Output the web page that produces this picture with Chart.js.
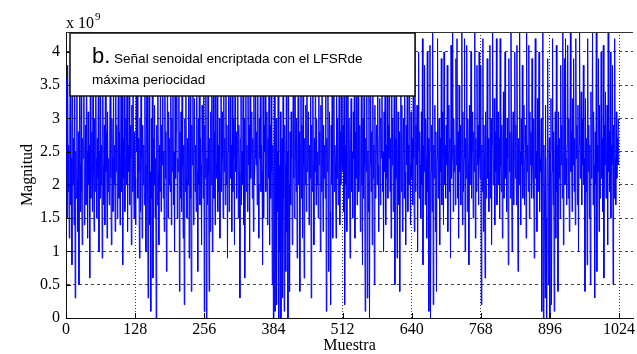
<!DOCTYPE html>
<html>
<head>
<meta charset="utf-8">
<script src="https://cdn.jsdelivr.net/npm/chart.js@4.4.1/dist/chart.umd.min.js"></script>
<style>
html,body{margin:0;padding:0;background:#fff;overflow:hidden;}
#wrap{width:637px;height:354px;position:relative;}
</style>
</head>
<body>
<div id="wrap"><canvas id="c" width="637" height="354"></canvas></div>
<script>
// Magnitude of each sample, in units of 1e8
const magnitud = [
22,36,15,38,19,26,12,29,41,17,24,8,42,20,27,14,
39,3,25,18,43,21,13,28,5,34,23,16,42,19,11,27,
24,42,14,21,29,17,40,25,12,31,20,26,6,39,18,23,
28,16,41,22,13,30,19,43,24,15,27,21,40,10,25,18,
38,20,26,9,39,23,17,29,14,43,22,28,12,31,19,24,
17,27,42,21,11,30,24,16,38,20,26,13,40,22,29,15,
25,41,18,28,14,23,37,19,43,8,27,21,40,16,24,30,
20,39,13,26,22,43,17,29,24,11,32,19,42,23,15,28,
21,14,41,25,39,18,27,22,9,30,16,43,24,12,29,20,
26,17,38,23,10,28,42,19,3,25,40,14,22,1,30,18,
42,6,27,20,32,15,24,0,29,17,38,22,11,26,19,40,
16,29,23,41,18,25,13,43,21,28,7,24,40,15,31,20,
27,19,41,14,30,22,39,17,25,10,37,21,28,43,15,24,
22,43,4,28,18,31,16,41,23,12,26,2,30,19,34,21,
15,27,20,40,9,25,39,18,4,29,23,42,14,24,33,19,
26,16,38,22,7,30,20,43,17,27,23,11,32,25,18,40,
1,29,21,42,0,24,17,39,22,4,27,13,31,20,40,10,
25,39,18,28,14,41,23,21,34,16,26,19,30,12,22,43,
19,31,24,15,41,22,27,17,43,20,29,9,25,39,16,23,
40,21,26,13,38,19,30,24,11,43,22,28,18,25,37,15,
29,22,3,27,42,17,25,20,40,14,30,6,23,39,19,26,
16,38,23,29,10,43,21,25,31,18,27,13,34,20,24,42,
23,28,17,42,20,12,30,24,38,19,26,22,8,40,15,29,
25,43,19,23,31,14,27,21,41,11,29,18,39,22,5,26,
0,22,40,1,19,30,2,25,16,43,0,23,10,31,0,21,
27,3,42,18,1,29,23,7,39,13,25,0,38,20,4,28,
17,31,24,11,26,43,21,15,40,25,19,30,9,23,39,20,
28,4,26,41,18,29,12,43,23,6,27,20,32,16,42,22,
24,31,14,26,21,38,3,29,19,40,23,11,27,22,42,17,
30,20,25,15,43,23,28,10,32,19,40,24,13,29,21,26,
18,39,1,27,22,40,7,24,31,16,2,29,20,43,12,25,
37,19,26,23,12,38,21,30,17,24,42,14,28,20,41,23,
22,29,16,43,2,26,20,39,13,25,38,18,30,23,9,27,
33,19,25,15,31,24,41,12,28,21,40,17,26,43,19,22,
29,13,24,39,20,8,30,18,43,23,1,27,22,34,3,25,
16,37,0,23,38,19,28,11,42,21,26,5,32,18,24,29,
20,43,23,13,27,33,17,30,24,40,19,25,10,31,22,41,
14,26,21,38,18,29,24,42,19,27,12,43,23,30,16,25,
41,5,27,21,42,9,23,31,17,28,4,25,38,19,32,13,
24,30,18,43,22,11,29,23,39,16,26,20,41,23,14,31,
21,27,17,38,24,13,43,19,29,23,32,10,25,40,18,28,
23,15,31,20,42,8,26,22,38,17,30,24,12,40,19,27,
1,25,41,0,22,29,16,43,2,26,21,32,13,28,4,24,
42,18,23,30,11,27,22,39,17,31,24,14,40,20,26,18,
29,23,38,13,25,32,19,27,9,41,21,24,43,16,30,22,
26,17,39,23,42,18,28,12,35,22,29,17,25,43,14,31,
19,24,42,10,27,21,41,16,30,23,8,32,20,26,40,18,
25,31,15,28,22,43,12,27,19,38,23,29,17,40,24,21,
38,2,26,19,42,13,29,23,6,31,18,25,39,21,27,16,
22,41,18,30,11,26,43,20,24,33,14,28,22,42,17,25,
31,20,27,15,42,23,19,29,12,25,34,18,23,40,21,27,
16,30,24,8,39,22,28,18,43,23,10,26,31,17,24,40,
21,29,17,41,23,7,27,20,43,25,14,30,23,38,18,26,
32,17,24,29,12,43,22,26,19,41,15,31,23,28,18,39,
23,18,30,9,27,42,21,25,13,33,19,29,40,16,24,22,
30,1,23,43,0,26,18,3,32,15,0,24,39,5,21,27,
0,25,33,2,22,42,17,28,1,23,31,12,41,19,26,4,
31,21,27,15,38,23,29,18,43,11,25,39,20,42,24,17,
26,41,18,30,13,24,43,22,28,16,33,23,39,19,27,14,
42,24,29,17,32,10,26,43,21,25,34,17,30,23,38,20,
24,4,33,19,27,8,42,22,29,15,26,5,34,21,25,43,
17,31,23,3,28,20,43,7,26,22,39,13,32,18,24,40,
21,27,16,41,6,29,23,34,18,25,32,11,43,22,28,19,
40,15,26,23,38,5,29,18,42,24,17,31,21,27,23,30
];
const UNIT = 1e8;
const xTicks = [0, 128, 256, 384, 512, 640, 768, 896, 1024];
const yTicks = [0, 0.5, 1, 1.5, 2, 2.5, 3, 3.5, 4];   // x 10^9
const xLimits = [0, 1050];
const yLimits = [0, 4.3];                               // x 10^9
const xTitle = 'Muestra';
const yTitle = 'Magnitud';
const noteBig = 'b.';
const noteLine1 = ' Señal senoidal encriptada con el LFSRde';
const noteLine2 = 'máxima periocidad';

const points = magnitud.map((v, i) => ({x: i, y: v * UNIT}));

const serif = "'Liberation Serif', 'Times New Roman', serif";
const sans = "'Liberation Sans', Arial, sans-serif";

const overlay = {
  id: 'overlay',
  afterDraw(chart) {
    const ctx = chart.ctx;
    const a = chart.chartArea;
    const xs = chart.scales.x, ys = chart.scales.y;
    ctx.save();
    ctx.strokeStyle = '#333';
    ctx.lineWidth = 1;
    ctx.beginPath();
    ctx.moveTo(a.left, a.top + 0.5);
    ctx.lineTo(a.right, a.top + 0.5);
    ctx.stroke();
    ctx.strokeStyle = '#000';
    ctx.beginPath();
    xs.ticks.forEach(t => {
      const px = Math.round(xs.getPixelForValue(t.value)) + 0.5;
      ctx.moveTo(px, a.bottom); ctx.lineTo(px, a.bottom - 5);
    });
    ys.ticks.forEach(t => {
      const py = Math.round(ys.getPixelForValue(t.value)) + 0.5;
      ctx.moveTo(a.left, py); ctx.lineTo(a.left + 5, py);
    });
    ctx.stroke();
    ctx.fillStyle = '#000';
    ctx.textBaseline = 'alphabetic';
    ctx.textAlign = 'left';
    ctx.font = '16px ' + serif;
    ctx.fillText('x 10', a.left, a.top - 4);
    const w = ctx.measureText('x 10').width;
    ctx.font = '11px ' + serif;
    ctx.fillText('9', a.left + w + 1, a.top - 12);
    const bx = a.left + 4, by = a.top + 1, bw = 345, bh = 63;
    ctx.fillStyle = '#fff';
    ctx.fillRect(bx, by, bw, bh);
    ctx.strokeStyle = '#111';
    ctx.lineWidth = 1.5;
    ctx.strokeRect(bx, by, bw, bh);
    ctx.fillStyle = '#000';
    ctx.font = '22px ' + sans;
    ctx.fillText(noteBig, bx + 22, by + 30);
    const wb = ctx.measureText(noteBig).width;
    ctx.font = '13.5px ' + sans;
    ctx.fillText(noteLine1, bx + 22 + wb, by + 30);
    ctx.fillText(noteLine2, bx + 22, by + 51);
    ctx.restore();
  }
};

new Chart(document.getElementById('c'), {
  type: 'line',
  data: {
    datasets: [{
      data: points,
      borderColor: '#0000ff',
      borderWidth: 1,
      pointRadius: 0,
      tension: 0,
      fill: false
    }]
  },
  options: {
    responsive: false,
    animation: false,
    parsing: false,
    events: [],
    layout: { padding: { top: 32, right: 0, left: 0, bottom: 0 }, autoPadding: false },
    plugins: { legend: { display: false }, tooltip: { enabled: false } },
    scales: {
      x: {
        type: 'linear',
        min: xLimits[0], max: xLimits[1],
        z: 1,
        afterFit(s) { s.height = 36; },
        afterBuildTicks(s) { s.ticks = xTicks.map(v => ({ value: v })); },
        ticks: { autoSkip: false, maxRotation: 0, minRotation: 0,
                 color: '#000', font: { family: serif, size: 16 }, padding: 2,
                 callback: v => String(v) },
        grid: { color: '#333', lineWidth: 1, drawTicks: false },
        border: { display: true, color: '#111', width: 1, dash: [1, 2] },
        title: { display: true, text: xTitle, color: '#000',
                 font: { family: serif, size: 16, lineHeight: 1 }, padding: { top: 0, bottom: 0 } }
      },
      y: {
        type: 'linear',
        min: yLimits[0] * 1e9, max: yLimits[1] * 1e9,
        z: 1,
        afterFit(s) { s.width = 66; },
        afterBuildTicks(s) { s.ticks = yTicks.map(v => ({ value: v * 1e9 })); },
        ticks: { autoSkip: false, color: '#000', font: { family: serif, size: 16 }, padding: 6,
                 callback: v => String(Math.round(v / 1e8) / 10) },
        grid: { color: '#444', lineWidth: 1, drawTicks: false },
        border: { display: true, color: '#111', width: 1, dash: [3, 3] },
        title: { display: true, text: yTitle, color: '#000',
                 font: { family: serif, size: 16, lineHeight: 1.2 }, padding: { top: 18, bottom: 0 } }
      }
    }
  },
  plugins: [overlay]
});
</script>
</body>
</html>
